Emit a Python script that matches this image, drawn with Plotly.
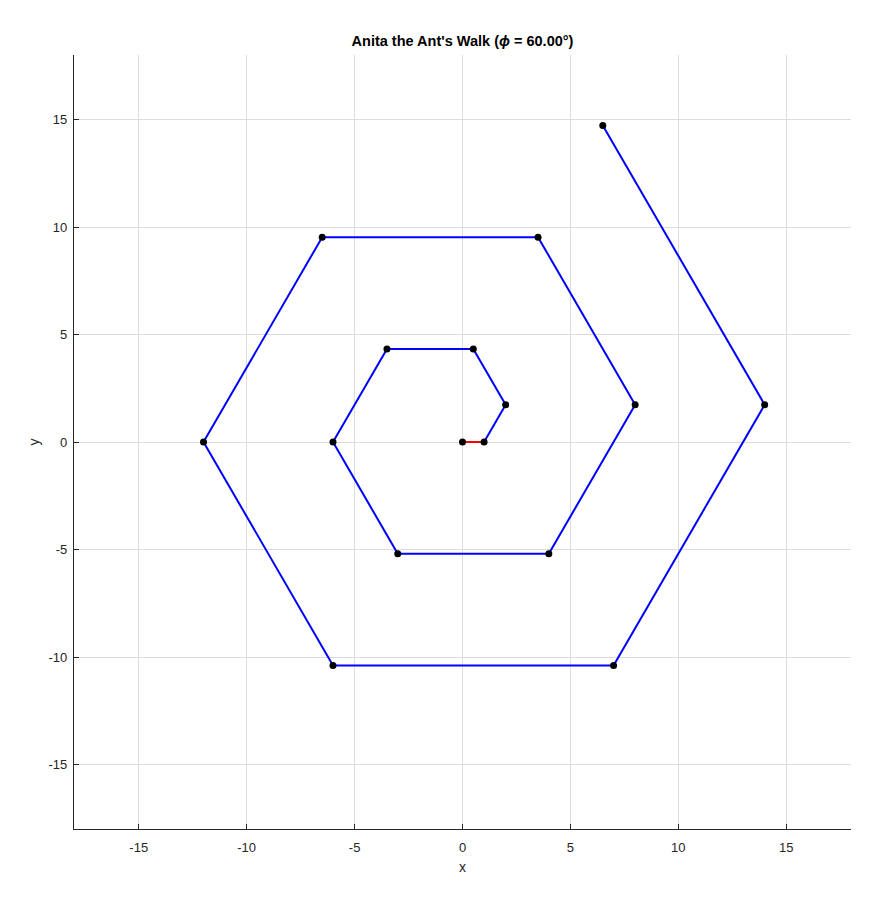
import plotly.graph_objects as go

# Vertices of the walk
xs = [0, 1, 2, 0.5, -3.5, -6, -3, 4, 8, 3.5, -6.5, -12, -6, 7, 14, 6.5]
ys = [0, 0, 1.732, 4.330, 4.330, 0, -5.196, -5.196, 1.732, 9.526, 9.526, 0, -10.392, -10.392, 1.732, 14.722]
ticks = [-15, -10, -5, 0, 5, 10, 15]

fig = go.Figure()
fig.add_trace(go.Scatter(x=xs[1:], y=ys[1:], mode="lines",
                         line=dict(color="#0000ff", width=2), hoverinfo="skip"))
fig.add_trace(go.Scatter(x=xs[:2], y=ys[:2], mode="lines",
                         line=dict(color="#ff0000", width=2), hoverinfo="skip"))
fig.add_trace(go.Scatter(x=xs, y=ys, mode="markers",
                         marker=dict(color="black", size=7)))

font = "Liberation Sans, Arial"
axis_common = dict(range=[-18, 18], tickvals=ticks, ticktext=[str(t) for t in ticks],
                   showgrid=True, gridcolor="#dcdcdc", gridwidth=1,
                   showline=True, linecolor="#262626", linewidth=1.3,
                   ticks="inside", ticklen=5, tickcolor="#262626",
                   zeroline=False, mirror=False,
                   tickfont=dict(family=font, size=13, color="#262626"))

fig.update_layout(
    width=879, height=913,
    margin=dict(l=74, r=28, t=55, b=84),
    paper_bgcolor="white", plot_bgcolor="white",
    showlegend=False,
    title=dict(text="<b>Anita the Ant's Walk (<i>ϕ</i> = 60.00°)</b>",
               x=0.5, xref="paper", xanchor="center", y=1 - 41/913, yanchor="middle",
               font=dict(family=font, size=14.5, color="black")),
    xaxis=dict(axis_common, ticklabelstandoff=6,
               title=dict(text="x", standoff=8,
                          font=dict(family=font, size=14, color="#262626"))),
    yaxis=dict(axis_common, ticklabelstandoff=3,
               title=dict(text="y", standoff=5,
                          font=dict(family=font, size=14, color="#262626"))),
)

fig.write_html("out.html")
